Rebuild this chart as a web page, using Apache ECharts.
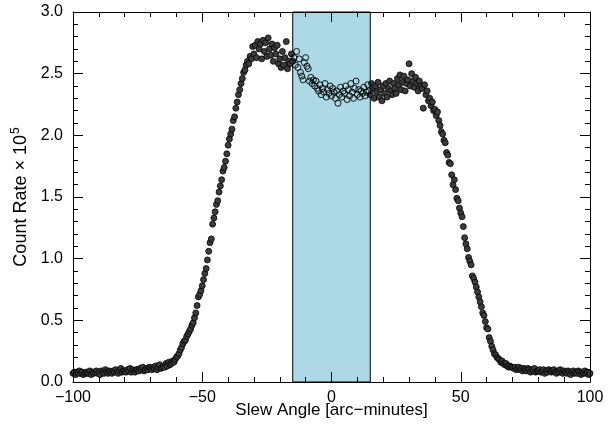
<!DOCTYPE html>
<html>
<head>
<meta charset="utf-8">
<script src="https://cdn.jsdelivr.net/npm/echarts@6/dist/echarts.min.js"></script>
<style>html,body{margin:0;padding:0;background:#fff}#c{width:610px;height:424px}</style>
</head>
<body>
<div id="c"></div>
<script>
// Slew angle grid (arc-minutes): first value and spacing
const xStart = -100;
const xStep = 0.5;
// Count rate (x 1e5), one value per grid step from -100 to 100
const countRate = [
  0.07,0.08,0.06,0.08,0.07,0.09,0.07,0.08,0.06,0.07,
  0.08,0.07,0.07,0.09,0.06,0.08,0.07,0.08,0.09,0.07,
  0.08,0.06,0.09,0.08,0.07,0.10,0.08,0.07,0.09,0.08,
  0.07,0.09,0.08,0.10,0.08,0.07,0.09,0.11,0.08,0.09,
  0.09,0.08,0.10,0.09,0.11,0.08,0.10,0.09,0.08,0.10,
  0.10,0.09,0.11,0.10,0.12,0.09,0.10,0.11,0.10,0.12,
  0.11,0.10,0.12,0.11,0.13,0.10,0.12,0.14,0.11,0.12,
  0.13,0.12,0.15,0.13,0.16,0.14,0.15,0.17,0.16,0.18,
  0.20,0.21,0.23,0.26,0.28,0.31,0.33,0.34,0.37,0.39,
  0.41,0.43,0.46,0.48,0.52,0.56,0.62,0.69,0.71,0.74,
  0.78,0.83,0.88,0.92,0.99,1.06,1.13,1.16,1.28,1.33,
  1.38,1.44,1.47,1.54,1.59,1.64,1.71,1.74,1.79,1.85,
  1.92,1.97,2.01,2.05,2.12,2.15,2.22,2.27,2.33,2.37,
  2.42,2.46,2.51,2.53,2.57,2.60,2.58,2.64,2.62,2.72,
  2.66,2.73,2.63,2.76,2.70,2.74,2.62,2.77,2.68,2.75,
  2.64,2.79,2.70,2.65,2.74,2.60,2.71,2.66,2.73,2.58,
  2.62,2.55,2.68,2.57,2.63,2.76,2.54,2.60,2.58,2.66,
  2.60,2.63,2.57,2.68,2.55,2.62,2.51,2.48,2.45,2.59,
  2.63,2.56,2.54,2.44,2.47,2.42,2.45,2.40,2.44,2.38,
  2.36,2.41,2.33,2.38,2.35,2.42,2.31,2.37,2.34,2.40,
  2.32,2.38,2.35,2.30,2.36,2.26,2.33,2.39,2.31,2.36,
  2.34,2.40,2.29,2.37,2.32,2.42,2.35,2.30,2.38,2.44,
  2.33,2.37,2.31,2.36,2.34,2.39,2.32,2.35,2.41,2.36,
  2.33,2.42,2.38,2.30,2.40,2.35,2.43,2.31,2.37,2.28,
  2.40,2.34,2.42,2.31,2.38,2.44,2.36,2.33,2.42,2.38,
  2.34,2.46,2.41,2.49,2.37,2.43,2.48,2.36,2.42,2.45,
  2.58,2.40,2.50,2.44,2.39,2.47,2.42,2.36,2.44,2.40,
  2.38,2.22,2.41,2.33,2.36,2.28,2.30,2.24,2.27,2.20,
  2.21,2.16,2.19,2.12,2.08,2.03,2.01,1.96,1.94,1.86,
  1.84,1.78,1.77,1.68,1.60,1.64,1.56,1.49,1.47,1.41,
  1.37,1.34,1.26,1.17,1.12,1.08,1.01,0.98,0.95,0.86,
  0.84,0.81,0.77,0.73,0.69,0.65,0.61,0.56,0.54,0.49,
  0.44,0.43,0.36,0.33,0.29,0.26,0.23,0.22,0.20,0.19,
  0.18,0.16,0.17,0.15,0.14,0.15,0.13,0.12,0.13,0.12,
  0.12,0.11,0.12,0.10,0.11,0.12,0.10,0.11,0.09,0.11,
  0.10,0.09,0.11,0.10,0.08,0.10,0.09,0.11,0.08,0.09,
  0.09,0.10,0.08,0.09,0.10,0.07,0.09,0.08,0.10,0.09,
  0.08,0.09,0.10,0.08,0.07,0.09,0.08,0.10,0.08,0.07,
  0.09,0.08,0.07,0.09,0.08,0.06,0.08,0.09,0.07,0.08,
  0.07,0.09,0.08,0.06,0.08,0.07,0.09,0.07,0.08,0.06,
  0.07
];
// Shaded band (arc-minutes)
const band = [-15, 15];
const xTicks = [-100, -50, 0, 50, 100];
const yTicks = [0.0, 0.5, 1.0, 1.5, 2.0, 2.5, 3.0];

const outside = [], inside = [];
countRate.forEach((v, i) => {
  const x = xStart + i * xStep;
  if (x > band[0] && x < band[1]) inside.push([x, v]); else outside.push([x, v]);
});

const FONT = 'Liberation Sans';
function ticks() {
  return {
    axisLine: { show: true, onZero: false, lineStyle: { color: '#000', width: 1 } },
    axisTick: { show: true, inside: true, length: 10, lineStyle: { color: '#000', width: 1 } },
    minorTick: { show: true, splitNumber: 5, length: 5, lineStyle: { color: '#000', width: 1 } },
    splitLine: { show: false },
    minorSplitLine: { show: false }
  };
}
function xAx(extra) {
  return Object.assign({ type: 'value', min: xTicks[0], max: xTicks[xTicks.length-1], interval: 50 }, ticks(), extra);
}
function yAx(extra) {
  return Object.assign({ type: 'value', min: yTicks[0], max: yTicks[yTicks.length-1], interval: 0.5 }, ticks(), extra);
}

const chart = echarts.init(document.getElementById('c'), null, { renderer: 'canvas' });
chart.setOption({
  animation: false,
  backgroundColor: '#fff',
  textStyle: { fontFamily: FONT },
  grid: { left: 73, right: 20, top: 12, bottom: 42, containLabel: false, outerBoundsMode: 'none' },
  xAxis: [
    xAx({
      position: 'bottom', z: 10,
      name: 'Slew Angle [arc\u2212minutes]',
      nameLocation: 'middle', nameGap: 20, nameMoveOverlap: false,
      nameTextStyle: { fontFamily: FONT, fontSize: 17, color: '#000' },
      axisLabel: { margin: 8, fontFamily: FONT, fontSize: 16, color: '#000',
        formatter: v => String(v).replace('-', '\u2212') }
    }),
    xAx({ position: 'top', z: 10, axisLabel: { show: false } })
  ],
  yAxis: [
    yAx({
      position: 'left', z: 10,
      name: '{a|Count Rate \u00d7 10}{s|5}',
      nameLocation: 'middle', nameGap: 40, nameRotate: 90, nameMoveOverlap: false,
      nameTextStyle: { fontFamily: FONT, color: '#000',
        rich: { a: { fontFamily: FONT, fontSize: 18, color: '#000' },
                s: { fontFamily: FONT, fontSize: 12, color: '#000', padding: [0, 0, 11, 1] } } },
      axisLabel: { margin: 10, fontFamily: FONT, fontSize: 16, color: '#000',
        formatter: v => v.toFixed(1) }
    }),
    yAx({ position: 'right', z: 10, axisLabel: { show: false } })
  ],
  series: [
    {
      type: 'line', data: [], z: 1, silent: true,
      markArea: {
        silent: true,
        itemStyle: { color: '#ADD8E6', borderColor: '#000', borderWidth: 1 },
        data: [[{ xAxis: band[0] }, { xAxis: band[1] }]]
      }
    },
    {
      type: 'scatter', data: outside, z: 3, symbolSize: 6,
      itemStyle: { color: '#3c3c3c', borderColor: '#000', borderWidth: 0.8, opacity: 1 }
    },
    {
      type: 'scatter', data: inside, z: 3, symbolSize: 6,
      itemStyle: { color: 'rgba(0,0,0,0)', borderColor: '#000', borderWidth: 0.9, opacity: 1 }
    }
  ]
});
</script>
</body>
</html>
